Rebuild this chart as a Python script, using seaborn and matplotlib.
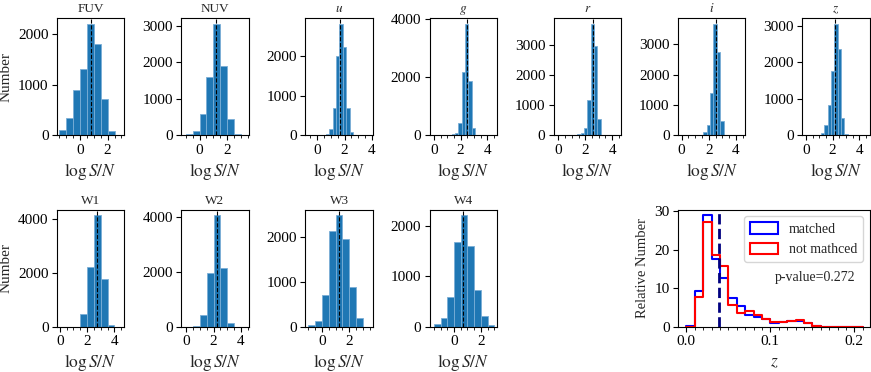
import numpy as np
import pandas as pd
import matplotlib
matplotlib.use("Agg")
import matplotlib.pyplot as plt
import matplotlib.patches as mpatches
from matplotlib.ticker import MultipleLocator
import seaborn as sns

# ---------------- data ----------------
bands = ["FUV", "NUV", "$u$", "$g$", "$r$", "$i$", "$z$", "W1", "W2", "W3", "W4"]

fuv_edges = [-1.5, -1.0, -0.5, 0.0, 0.5, 1.0, 1.5, 2.0, 2.5]
fuv_counts = [100, 340, 900, 1315, 2200, 1790, 710, 80]
fuv_median = 0.77

nuv_edges = [-1.0, -0.5, 0.0, 0.5, 1.0, 1.5, 2.0, 2.5, 3.0]
nuv_counts = [30, 110, 580, 1590, 3060, 1910, 440, 40]
nuv_median = 1.17

u_edges = [0.625, 0.875, 1.125, 1.375, 1.625, 1.875, 2.125, 2.375, 2.625]
u_counts = [50, 170, 690, 2000, 2820, 2230, 700, 85]
u_median = 1.70

g_edges = [1.32, 1.57, 1.82, 2.07, 2.32, 2.57, 2.82, 3.07]
g_counts = [35, 70, 420, 2190, 3850, 1880, 250]
g_median = 2.44

r_edges = [1.40, 1.65, 1.90, 2.15, 2.40, 2.65, 2.90, 3.15]
r_counts = [45, 90, 255, 1170, 3720, 2970, 555]
r_median = 2.56

i_edges = [1.35, 1.60, 1.85, 2.10, 2.35, 2.60, 2.85, 3.10, 3.35]
i_counts = [20, 110, 330, 1380, 3670, 2750, 485, 20]
i_median = 2.52

z_edges = [0.88, 1.13, 1.38, 1.63, 1.88, 2.13, 2.38, 2.63, 2.88, 3.13]
z_counts = [18, 73, 275, 823, 1757, 3065, 2360, 485, 30]
z_median = 2.20

w1_edges = [1.0, 1.5, 2.0, 2.5, 3.0, 3.5, 4.0]
w1_counts = [10, 500, 2240, 4150, 1765, 75]
w1_median = 2.70

w2_edges = [0.5, 1.0, 1.5, 2.0, 2.5, 3.0, 3.5]
w2_counts = [35, 440, 1960, 4070, 2130, 145]
w2_median = 2.22

w3_edges = [-1.0, -0.5, 0.0, 0.5, 1.0, 1.5, 2.0, 2.5, 3.0]
w3_counts = [40, 140, 715, 2120, 2480, 1960, 885, 200]
w3_median = 1.24

w4_edges = [-1.5, -1.0, -0.5, 0.0, 0.5, 1.0, 1.5, 2.0, 2.5, 3.0]
w4_counts = [60, 180, 590, 1670, 2210, 1600, 740, 210, 35]
w4_median = 0.69

# redshift comparison
redshift_edges = [round(0.01 * k, 2) for k in range(22)]
matched_rel = [0.2, 9.3, 29.0, 17.5, 12.7, 7.6, 5.4, 3.1, 2.6, 2.0, 1.1, 1.4, 1.5, 1.5,
               1.0, 0.3, 0, 0, 0, 0, 0]
notmatched_rel = [0.0, 7.9, 27.3, 18.6, 15.9, 5.6, 3.6, 4.2, 3.2, 2.0, 1.2, 1.4, 1.5, 1.9,
                  1.0, 0.3, 0, 0, 0, 0, 0]
z_split = 0.0395
p_value_text = "p-value=0.272"

# ---------------- style ----------------
sns.set_style("ticks")
plt.rcParams["font.family"] = ["Liberation Serif", "DejaVu Serif"]
plt.rcParams["mathtext.fontset"] = "stix"
plt.rcParams["font.size"] = 11
plt.rcParams["axes.edgecolor"] = "black"
plt.rcParams["xtick.color"] = "black"
plt.rcParams["ytick.color"] = "black"
plt.rcParams["axes.linewidth"] = 0.8

TICK_FS = 11

fig = plt.figure(figsize=(8.71, 3.72), dpi=100)
gs = fig.add_gridspec(2, 7, left=0.0654, right=0.9985, top=0.9516, bottom=0.121,
                      wspace=0.84, hspace=0.63)

# (row, col, edges, counts, median, xlim, y tick step)
panels = [
    (0, 0, fuv_edges, fuv_counts, fuv_median, (-1.68, 3.22), 1000),
    (0, 1, nuv_edges, nuv_counts, nuv_median, (-1.32, 3.54), 1000),
    (0, 2, u_edges, u_counts, u_median, (-0.86, 4.07), 1000),
    (0, 3, g_edges, g_counts, g_median, (-0.35, 4.75), 2000),
    (0, 4, r_edges, r_counts, r_median, (-0.35, 4.68), 1000),
    (0, 5, i_edges, i_counts, i_median, (-0.27, 4.71), 1000),
    (0, 6, z_edges, z_counts, z_median, (-0.27, 4.76), 1000),
    (1, 0, w1_edges, w1_counts, w1_median, (-0.2, 4.73), 2000),
    (1, 1, w2_edges, w2_counts, w2_median, (-0.37, 4.57), 2000),
    (1, 2, w3_edges, w3_counts, w3_median, (-1.22, 3.73), 1000),
    (1, 3, w4_edges, w4_counts, w4_median, (-1.83, 3.21), 1000),
]

for name, (row, col, edges, counts, med, xlim, ystep) in zip(bands, panels):
    ax = fig.add_subplot(gs[row, col])
    e = np.asarray(edges, dtype=float)
    centers = 0.5 * (e[:-1] + e[1:])
    df = pd.DataFrame({"x": centers, "w": np.asarray(counts, dtype=float)})
    sns.histplot(data=df, x="x", weights="w", bins=list(edges), ax=ax,
                 color="#1f77b4", alpha=1.0, edgecolor="#7aaed6", linewidth=0.6)
    ax.axvline(med, color="black", ls="--", lw=0.8)
    ax.set_xlim(*xlim)
    ax.xaxis.set_major_locator(MultipleLocator(2))
    ax.xaxis.set_minor_locator(MultipleLocator(0.5))
    ax.yaxis.set_major_locator(MultipleLocator(ystep))
    ax.tick_params(axis="both", which="major", labelsize=TICK_FS, length=3.5, width=0.8, pad=2.5)
    ax.tick_params(axis="x", which="minor", length=2, width=0.6)
    ax.set_title(name, fontsize=9.5, pad=4)
    ax.set_xlabel(r"$\log S/N$", fontsize=12.5, labelpad=3)
    ax.set_ylabel("Number" if col == 0 else "", fontsize=11)
    for s in ax.spines.values():
        s.set_visible(True)

# redshift panel
axz = fig.add_subplot(gs[1, 5:7])
zc = 0.5 * (np.asarray(redshift_edges[:-1]) + np.asarray(redshift_edges[1:]))
df_m = pd.DataFrame({"z": zc, "w": np.asarray(matched_rel, dtype=float)})
df_n = pd.DataFrame({"z": zc, "w": np.asarray(notmatched_rel, dtype=float)})
sns.histplot(data=df_m, x="z", weights="w", bins=list(redshift_edges),
             element="step", fill=False, color="blue", linewidth=1.5, ax=axz)
sns.histplot(data=df_n, x="z", weights="w", bins=list(redshift_edges),
             element="step", fill=False, color="red", linewidth=1.5, ax=axz)
axz.axvline(z_split, color="#000080", ls="--", lw=2)
axz.set_xlim(-0.0099, 0.2183)
axz.xaxis.set_major_locator(MultipleLocator(0.1))
axz.xaxis.set_minor_locator(MultipleLocator(0.01))
axz.yaxis.set_major_locator(MultipleLocator(10))
axz.tick_params(axis="both", which="major", labelsize=TICK_FS, length=3.5, width=0.8, pad=2.5)
axz.tick_params(axis="x", which="minor", length=2, width=0.6)
axz.set_xlabel("$z$", fontsize=12.5)
axz.set_ylabel("Relative Number", fontsize=10.5)
handles = [mpatches.Patch(facecolor="none", edgecolor="blue", linewidth=1.5, label="matched"),
           mpatches.Patch(facecolor="none", edgecolor="red", linewidth=1.5, label="not mathced")]
axz.legend(handles=handles, loc="upper right", fontsize=10, frameon=True,
           handleheight=0.9, handlelength=2.0)
axz.text(0.105, 12.7, p_value_text, fontsize=10, va="center")
for s in axz.spines.values():
    s.set_visible(True)

fig.savefig("out.png", dpi=100)
